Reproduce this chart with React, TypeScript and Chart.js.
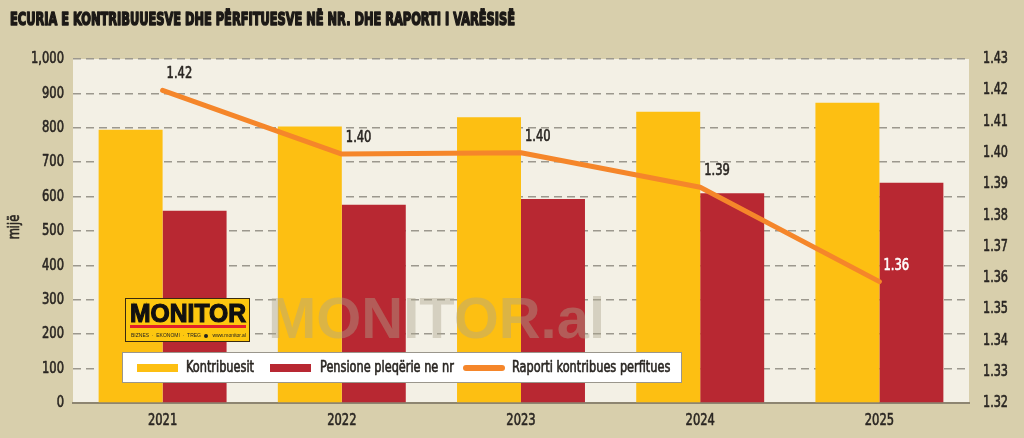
import { useEffect, useRef } from "react";
import Chart from "chart.js/auto";

// Years on the category axis
const years = ["2021", "2022", "2023", "2024", "2025"];
// Contributors, thousands
const contributors = [794, 804, 831, 847, 873];
// Old-age pensions, thousands
const pensioners = [559, 576, 593, 610, 640];
// Contributor / beneficiary ratio
const ratio = [1.42, 1.3996, 1.4, 1.389, 1.3588];

const seriesNames = ["Kontribuesit", "Pensione pleqërie ne nr", "Raporti kontribues perfitues"];
const TITLE = "ECURIA E KONTRIBUUESVE DHE PËRFITUESVE NË NR. DHE RAPORTI I VARËSISË";
const AXIS_UNIT = "mijë";

const YELLOW = "#fdbf12";
const RED = "#b82832";
const ORANGE = "#f5862a";
const PAGE_BG = "#d8cfac";
const PLOT_BG = "#f3f0e5";
const INK = "#2a2622";
const COND = "'DejaVu Sans Condensed', 'DejaVu Sans', sans-serif";
const SQUEEZE = 0.8;

// Draws text squeezed horizontally around its anchor point, giving a narrow face.
function narrowText(ctx: CanvasRenderingContext2D, text: string, x: number, y: number, align: CanvasTextAlign, sx = SQUEEZE, weight = 0.6) {
  ctx.save();
  ctx.translate(x, y);
  ctx.scale(sx, 1);
  ctx.textAlign = align;
  ctx.fillText(text, 0, 0);
  if (weight > 0) {
    ctx.lineWidth = weight;
    ctx.lineJoin = "round";
    ctx.strokeStyle = ctx.fillStyle as string;
    ctx.strokeText(text, 0, 0);
  }
  ctx.restore();
}

const decorPlugin = {
  id: "decor",
  beforeDraw(chart: any) {
    const { ctx, chartArea } = chart;
    ctx.save();
    // plot background
    ctx.fillStyle = PLOT_BG;
    ctx.fillRect(chartArea.left, chartArea.top, chartArea.right - chartArea.left, chartArea.bottom - chartArea.top);

    // heavy condensed headline
    ctx.font = "bold 18px 'DejaVu Sans Condensed', sans-serif";
    const w = ctx.measureText(TITLE).width;
    ctx.translate(10, 25);
    ctx.scale(505 / w, 1);
    ctx.fillStyle = "#1c1916";
    ctx.strokeStyle = "#1c1916";
    ctx.lineWidth = 1.5;
    ctx.lineJoin = "round";
    ctx.textBaseline = "alphabetic";
    ctx.fillText(TITLE, 0, 0);
    ctx.strokeText(TITLE, 0, 0);
    ctx.restore();

    // left axis unit
    ctx.save();
    ctx.translate(15, 227);
    ctx.rotate(-Math.PI / 2);
    ctx.font = `16px ${COND}`;
    ctx.fillStyle = INK;
    ctx.textBaseline = "middle";
    narrowText(ctx, AXIS_UNIT, 0, 0, "center");
    ctx.restore();
  },
  afterDatasetsDraw(chart: any) {
    const { ctx } = chart;

    // watermark
    ctx.save();
    ctx.font = "bold 57px 'Liberation Sans', Arial, sans-serif";
    ctx.fillStyle = "rgba(172,165,140,0.42)";
    ctx.textBaseline = "alphabetic";
    const ww = ctx.measureText("MONITOR.al").width;
    ctx.translate(268, 338);
    ctx.scale(337 / ww, 1);
    ctx.fillText("MONITOR.al", 0, 0);
    ctx.restore();

    // logo badge
    ctx.save();
    ctx.fillStyle = "#fdc70f";
    ctx.fillRect(125, 298, 125, 44);
    ctx.strokeStyle = "#3a2a10";
    ctx.lineWidth = 1;
    ctx.strokeRect(125.5, 298.5, 124, 43);
    ctx.font = "bold 26px 'Liberation Sans', Arial, sans-serif";
    const lw = ctx.measureText("MONITOR").width;
    ctx.save();
    ctx.translate(130, 322);
    ctx.scale(116 / lw, 1);
    ctx.fillStyle = "#111";
    ctx.strokeStyle = "#111";
    ctx.lineWidth = 1.2;
    ctx.fillText("MONITOR", 0, 0);
    ctx.strokeText("MONITOR", 0, 0);
    ctx.restore();
    ctx.fillStyle = "#e3202b";
    ctx.fillRect(130, 325, 116, 3);
    ctx.font = "5px 'Liberation Sans', Arial, sans-serif";
    ctx.fillStyle = "#222";
    ctx.textBaseline = "middle";
    ctx.fillText("BIZNES  ·  EKONOMI  ·  TREG", 131, 336);
    ctx.textAlign = "right";
    ctx.fillText("www.monitor.al", 246, 336);
    ctx.beginPath();
    ctx.arc(206, 336, 2, 0, Math.PI * 2);
    ctx.fill();
    ctx.restore();

    // legend box
    const ds = chart.data.datasets;
    ctx.save();
    ctx.fillStyle = "#ffffff";
    ctx.fillRect(122, 352, 560, 31);
    ctx.strokeStyle = "#9a968c";
    ctx.lineWidth = 1;
    ctx.strokeRect(122.5, 352.5, 559, 30);
    ctx.font = `15px ${COND}`;
    ctx.textBaseline = "middle";
    const cy = 368;
    const swatchX = [137, 270, 463];
    const textX = [186, 320, 512];
    ds.forEach((d: any, i: number) => {
      const sx = swatchX[i];
      if (d.type === "line") {
        ctx.strokeStyle = d.borderColor;
        ctx.lineWidth = 6;
        ctx.lineCap = "round";
        ctx.beginPath();
        ctx.moveTo(sx + 3, cy);
        ctx.lineTo(sx + 39, cy);
        ctx.stroke();
      } else {
        ctx.fillStyle = d.backgroundColor;
        ctx.fillRect(sx, cy - 4, 41, 8);
      }
      ctx.fillStyle = INK;
      narrowText(ctx, d.label, textX[i], cy, "left", 0.84);
    });
    ctx.restore();

    // ratio value labels
    ds.forEach((d: any, i: number) => {
      if (d.type !== "line") return;
      const meta = chart.getDatasetMeta(i);
      ctx.save();
      ctx.font = `16px ${COND}`;
      ctx.textBaseline = "middle";
      meta.data.forEach((pt: any, j: number) => {
        ctx.fillStyle = j === meta.data.length - 1 ? "#ffffff" : INK;
        narrowText(ctx, Number(d.data[j]).toFixed(2), pt.x + 4, pt.y - 16, "left");
      });
      ctx.restore();
    });
  },
  afterDraw(chart: any) {
    // axis tick labels, in a narrow face
    const { ctx, scales } = chart;
    ctx.save();
    ctx.font = `16px ${COND}`;
    ctx.fillStyle = INK;
    ctx.textBaseline = "middle";
    const y = scales.y;
    y.ticks.forEach((t: any, i: number) => narrowText(ctx, String(t.label), y.right - 9, y.getPixelForTick(i), "right"));
    const y1 = scales.y1;
    y1.ticks.forEach((t: any, i: number) => narrowText(ctx, String(t.label), y1.left + 14, y1.getPixelForTick(i), "left", 0.78));
    const x = scales.x;
    x.ticks.forEach((t: any, i: number) => narrowText(ctx, String(t.label), x.getPixelForTick(i), x.top + 18, "center"));
    ctx.restore();
  },
};

export default function App() {
  const ref = useRef<HTMLCanvasElement | null>(null);

  useEffect(() => {
    if (!ref.current) return;
    const hidden = { family: COND, size: 16 };
    const clear = "rgba(0,0,0,0)";
    const chart = new Chart(ref.current, {
      data: {
        labels: years,
        datasets: [
          {
            type: "bar",
            label: seriesNames[0],
            data: contributors,
            yAxisID: "y",
            backgroundColor: YELLOW,
            borderWidth: 0,
            categoryPercentage: 0.714,
            barPercentage: 1,
            order: 1,
          },
          {
            type: "bar",
            label: seriesNames[1],
            data: pensioners,
            yAxisID: "y",
            backgroundColor: RED,
            borderWidth: 0,
            categoryPercentage: 0.714,
            barPercentage: 1,
            order: 1,
          },
          {
            type: "line",
            label: seriesNames[2],
            data: ratio,
            yAxisID: "y1",
            borderColor: ORANGE,
            backgroundColor: ORANGE,
            borderWidth: 5,
            pointRadius: 0,
            borderCapStyle: "round",
            borderJoinStyle: "round",
            tension: 0,
            order: 0,
          },
        ],
      } as any,
      options: {
        responsive: false,
        animation: false,
        layout: { padding: { top: 59, left: 0, right: 0, bottom: 0 } },
        plugins: { legend: { display: false }, tooltip: { enabled: false }, title: { display: false } },
        scales: {
          x: {
            grid: { drawOnChartArea: false, drawTicks: false },
            border: { display: true, color: "#8d8571", width: 2 },
            ticks: { font: hidden, color: clear, padding: 8 },
            afterFit(scale: any) {
              scale.height = 35;
            },
          },
          y: {
            position: "left",
            min: 0,
            max: 1000,
            ticks: {
              stepSize: 100,
              font: hidden,
              color: clear,
              padding: 9,
              callback: (v: any) => Number(v).toLocaleString("en-US"),
            },
            grid: {
              drawTicks: false,
              color: (c: any) => (c.tick && c.tick.value === 0 ? clear : "#9c988e"),
              lineWidth: 1.5,
            },
            border: { display: false, dash: [8, 5] },
            afterFit(scale: any) {
              scale.width = 73;
            },
          },
          y1: {
            position: "right",
            min: 1.32,
            max: 1.43,
            ticks: {
              stepSize: 0.01,
              font: hidden,
              color: clear,
              padding: 14,
              callback: (v: any) => Number(v).toFixed(2),
            },
            grid: { display: false, drawTicks: false },
            border: { display: false },
            afterFit(scale: any) {
              scale.width = 55;
            },
          },
        },
      } as any,
      plugins: [decorPlugin],
    });
    return () => chart.destroy();
  }, []);

  return (
    <div style={{ position: "absolute", left: 0, top: 0, width: 1024, height: 438, background: PAGE_BG }}>
      <canvas ref={ref} width={1024} height={438} style={{ display: "block" }} />
    </div>
  );
}
